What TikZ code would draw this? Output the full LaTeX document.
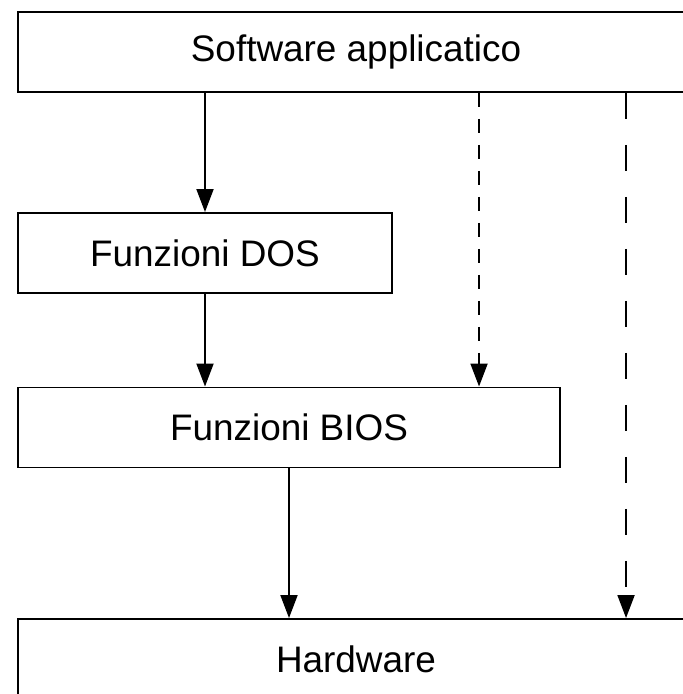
\documentclass[tikz,border=0pt]{standalone}
\usepackage{fontspec}
\setmainfont{Liberation Sans}
\usetikzlibrary{arrows.meta}
\begin{document}
\begin{tikzpicture}[box/.style={draw,line width=1.1pt,minimum height=1.6cm,inner sep=0pt,font=\fontsize{21}{25}\selectfont},
	arr/.style={line width=1.1pt,-{Triangle[length=0.46cm,width=0.34cm]}}]
	            \useasboundingbox (0,0) rectangle (13.66,-13.88);
	            \clip (0,0) rectangle (13.66,-13.88);
	            \node[box,minimum width=13.52cm] at (7.12,-1.04) (sw) {Software applicatico};
	            \node[box,minimum width=7.48cm] at (4.10,-5.06) (dos) {Funzioni DOS};
	            \node[box,minimum width=10.84cm] at (5.78,-8.55) (bios) {Funzioni BIOS};
	            \node[box,minimum width=13.52cm] at (7.12,-13.18) (hw) {Hardware};
	            \coordinate (d1) at ([xshift=9.24cm]sw.south west);
	            \coordinate (d2) at ([xshift=12.18cm]sw.south west);
	            \draw[arr] (sw.south -| dos.north) -- (dos.north);
	            \draw[arr] (dos.south) -- (dos.south |- bios.north);
	            \draw[arr] (bios.south) -- (bios.south |- hw.north);
	            \draw[arr,dash pattern=on 0.28cm off 0.24cm] (d1) -- (d1 |- bios.north);
	            \draw[arr,dash pattern=on 0.52cm off 0.52cm] (d2) -- (d2 |- hw.north);
            \end{tikzpicture}
\end{document}
